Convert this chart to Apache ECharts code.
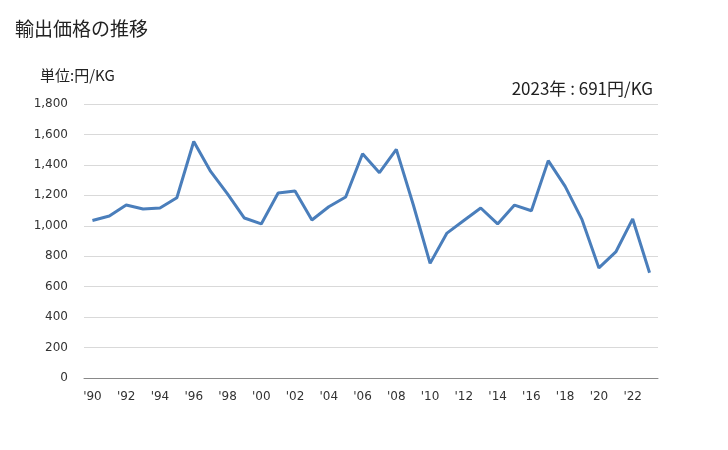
<!DOCTYPE html>
<html><head><meta charset="utf-8">
<script src="https://cdn.jsdelivr.net/npm/echarts@6/dist/echarts.min.js"></script>
<style>html,body{margin:0;padding:0;background:#fff}#c{width:728px;height:450px}</style>
</head><body><div id="c"></div>
<script>
const years = [1990,1991,1992,1993,1994,1995,1996,1997,1998,1999,2000,2001,2002,2003,2004,2005,2006,2007,2008,2009,2010,2011,2012,2013,2014,2015,2016,2017,2018,2019,2020,2021,2022,2023];
const values = [1035,1064,1136,1110,1117,1184,1554,1357,1209,1051,1012,1215,1228,1038,1125,1189,1473,1349,1502,1140,753,952,1035,1117,1012,1136,1099,1428,1259,1040,723,828,1045,691];
const yTicks = [0,200,400,600,800,1000,1200,1400,1600,1800];
const titleText = '輸出価格の推移';
const unitText = '単位:円/KG';
const noteText = '2023年 : 691円/KG';

const cats = years.map(y => "'" + String(y).slice(2));
const chart = echarts.init(document.getElementById('c'), null, {renderer:'canvas'});
chart.setOption({
  animation:false,
  backgroundColor:'#fff',
  title:[
    {text:titleText, left:10, top:14, textStyle:{fontFamily:'Noto Sans CJK JP', fontSize:19, fontWeight:'normal', color:'#222'}},
    {text:unitText, left:35, top:63, textStyle:{fontFamily:'Noto Sans CJK JP', fontSize:15, fontWeight:'normal', color:'#222'}},
    {text:noteText, right:70, top:75, textStyle:{fontFamily:'Noto Sans CJK JP', fontSize:17, fontWeight:'normal', color:'#222'}}
  ],
  grid:{left:84, right:70, top:104, bottom:72, containLabel:false},
  xAxis:{
    type:'category', data:cats, boundaryGap:true,
    axisLine:{lineStyle:{color:'#898989', width:1}},
    axisTick:{show:false},
    axisLabel:{interval:1, margin:13, fontFamily:'DejaVu Sans', fontSize:12, color:'#333'}
  },
  yAxis:{
    type:'value', min:yTicks[0], max:yTicks[yTicks.length-1], interval:200,
    axisLine:{show:false}, axisTick:{show:false},
    splitLine:{lineStyle:{color:'#d9d9d9', width:1}},
    axisLabel:{margin:16, fontFamily:'DejaVu Sans', fontSize:12, color:'#333',
      formatter:v => v.toLocaleString('en-US')}
  },
  series:[{type:'line', data:values, symbol:'none', lineStyle:{color:'#4a7ebb', width:3}, itemStyle:{color:'#4a7ebb'}}]
});
</script></body></html>
